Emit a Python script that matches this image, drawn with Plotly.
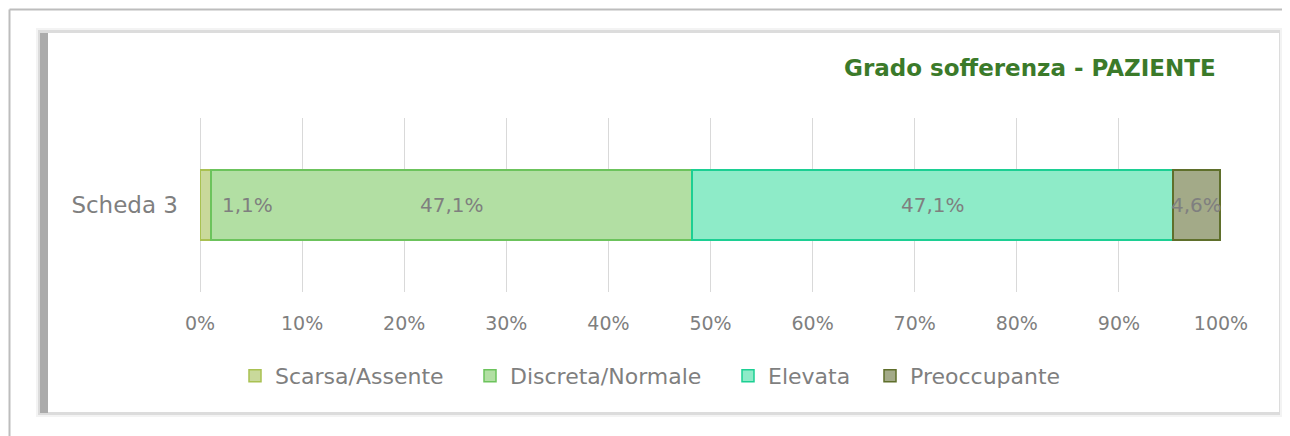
import plotly.graph_objects as go

categories = ["Scheda 3"]
series_names = ["Scarsa/Assente", "Discreta/Normale", "Elevata", "Preoccupante"]
series_values = [1.1, 47.1, 47.1, 4.6]
fill_colors = ["#c9d99b", "#b2dfa3", "#8eebc8", "#a3aa88"]
line_colors = ["#a9c152", "#6cc35c", "#1ccf93", "#5f6f2b"]
x_tick_values = [0, 10, 20, 30, 40, 50, 60, 70, 80, 90, 100]
x_tick_labels = ["0%", "10%", "20%", "30%", "40%", "50%", "60%", "70%", "80%", "90%", "100%"]
title_text = "Grado sofferenza - PAZIENTE"

W, H = 1290, 436
OFF = 8  # page body margin
FONT = "DejaVu Sans"
GRAY = "#7f7f7f"

# left pixel position of each legend entry's text in the reference layout
legend_text_left = [275, 510, 768, 910]


def px(x):
    return (x - OFF) / W


def py(y):
    return 1 - (y - OFF) / H


legend_ids = ["legend", "legend2", "legend3", "legend4"]

fig = go.Figure()
for name, val, fc, lc, lid in zip(series_names, series_values, fill_colors, line_colors, legend_ids):
    fig.add_trace(go.Bar(
        name=name, y=categories, x=[val], orientation="h",
        marker=dict(color=fc, line=dict(color=lc, width=1.5)),
        width=0.4, hoverinfo="x+name", legend=lid,
    ))

# data labels
annotations = []
cum = 0
for i, val in enumerate(series_values):
    label = f"{val:.1f}".replace(".", ",") + "%"
    if i == 0:
        annotations.append(dict(x=cum + val, y=categories[0], xref="x", yref="y",
                                text=label, showarrow=False, xanchor="left", xshift=9,
                                font=dict(family=FONT, size=20, color=GRAY)))
    else:
        annotations.append(dict(x=cum + val / 2, y=categories[0], xref="x", yref="y",
                                text=label, showarrow=False, xanchor="center",
                                font=dict(family=FONT, size=20, color=GRAY)))
    cum += val

annotations.append(dict(x=px(1218), y=py(68), xref="paper", yref="paper",
                        text="<b>" + title_text + "</b>", showarrow=False,
                        xanchor="right", yanchor="middle",
                        font=dict(family=FONT, size=23, color="#3b7a2a")))

shapes = [
    # outer frame
    dict(type="line", xref="paper", yref="paper", x0=px(9.5), x1=1.1, y0=py(9.5), y1=py(9.5),
         line=dict(color="#bdbdbd", width=2), layer="below"),
    dict(type="line", xref="paper", yref="paper", x0=px(9.5), x1=px(9.5), y0=py(9.5), y1=-0.1,
         line=dict(color="#bdbdbd", width=2), layer="below"),
    # card with shadows
    dict(type="rect", xref="paper", yref="paper", x0=px(36), x1=px(1282), y0=py(28), y1=py(417),
         fillcolor="#f3f3f3", line=dict(width=0), layer="below"),
    dict(type="rect", xref="paper", yref="paper", x0=px(38), x1=px(1280), y0=py(30), y1=py(415),
         fillcolor="#dcdcdc", line=dict(width=0), layer="below"),
    dict(type="rect", xref="paper", yref="paper", x0=px(40), x1=px(48), y0=py(33), y1=py(413),
         fillcolor="#ababab", line=dict(width=0), layer="below"),
    dict(type="rect", xref="paper", yref="paper", x0=px(48), x1=px(1279), y0=py(33), y1=py(412),
         fillcolor="#ffffff", line=dict(width=0), layer="below"),
]

legend_layouts = {}
for lid, tx in zip(legend_ids, legend_text_left):
    legend_layouts[lid] = dict(
        orientation="h", x=px(tx - 40), xanchor="left", y=py(376), yanchor="middle",
        font=dict(family=FONT, size=22, color=GRAY), itemwidth=30,
        bgcolor="rgba(0,0,0,0)")

fig.update_layout(
    width=W, height=H,
    margin=dict(l=0, r=0, t=0, b=0, autoexpand=False),
    paper_bgcolor="white", plot_bgcolor="rgba(0,0,0,0)",
    barmode="stack",
    showlegend=True,
    xaxis=dict(domain=[px(200), px(1221)], range=[0, 100], tickvals=x_tick_values,
               ticktext=x_tick_labels, showgrid=True, gridcolor="#d9d9d9", gridwidth=1,
               zeroline=True, zerolinecolor="#d9d9d9", zerolinewidth=1, showline=False,
               ticks="", ticklabelstandoff=18, automargin=False,
               tickfont=dict(family=FONT, size=19, color=GRAY), fixedrange=True),
    yaxis=dict(domain=[py(292), py(118)], range=[-0.5, 0.5], showgrid=False, zeroline=False,
               showline=False, ticks="", ticklabelstandoff=21, automargin=False,
               tickfont=dict(family=FONT, size=23, color=GRAY), fixedrange=True),
    annotations=annotations,
    shapes=shapes,
    **legend_layouts,
)

fig.write_html("out.html")
